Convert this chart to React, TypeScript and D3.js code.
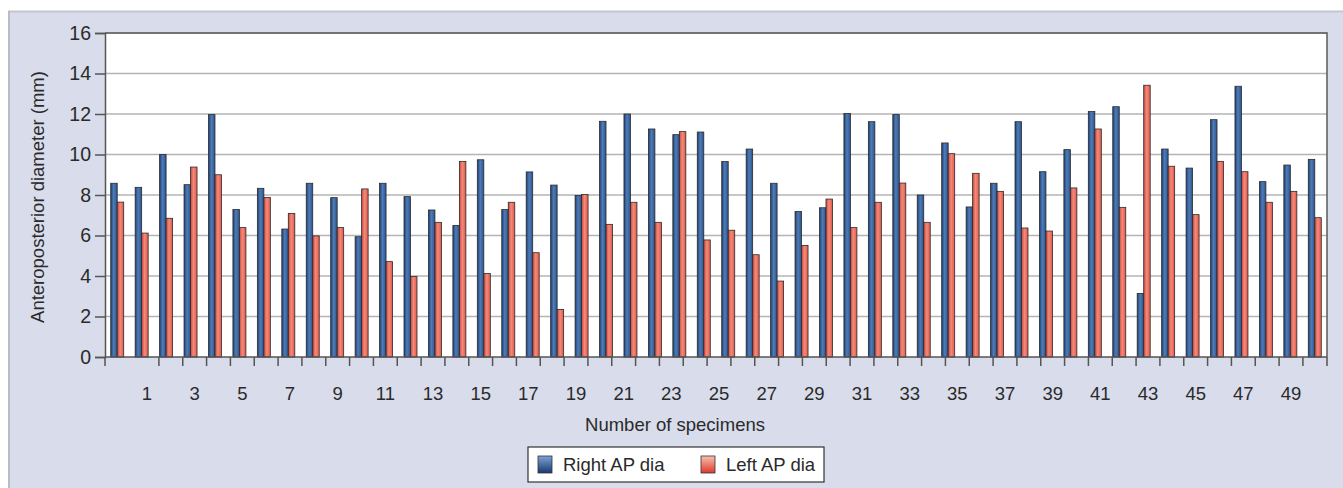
import { useEffect, useRef } from 'react';
import * as d3 from 'd3';

// values (mm), specimens in order
const rightAP = [
  8.58, 8.38, 10.0, 8.51, 11.97, 7.28, 8.33, 6.32, 8.58, 7.87,
  5.94, 8.58, 7.92, 7.26, 6.5, 9.74, 7.28, 9.14, 8.49, 7.98,
  11.64, 12.0, 11.26, 10.98, 11.11, 9.65, 10.27, 8.58, 7.19, 7.37,
  12.03, 11.62, 11.97, 8.0, 10.57, 7.41, 8.58, 11.62, 9.15, 10.24,
  12.12, 12.36, 3.14, 10.27, 9.33, 11.72, 13.37, 8.66, 9.48, 9.76,
];
const leftAP = [
  7.65, 6.12, 6.85, 9.38, 9.0, 6.39, 7.88, 7.09, 5.98, 6.39,
  8.3, 4.71, 3.97, 6.65, 9.66, 4.12, 7.64, 5.15, 2.35, 8.02,
  6.55, 7.64, 6.65, 11.13, 5.78, 6.26, 5.05, 3.75, 5.51, 7.8,
  6.39, 7.64, 8.59, 6.65, 10.04, 9.07, 8.18, 6.37, 6.22, 8.35,
  11.26, 7.39, 13.42, 9.42, 7.03, 9.66, 9.15, 7.64, 8.18, 6.88,
];
const seriesNames = ['Right AP dia', 'Left AP dia'];
const yTicks = [0, 2, 4, 6, 8, 10, 12, 14, 16];
const xTickLabels = d3.range(1, 50, 2);

const FONT = '"Liberation Sans", Arial, sans-serif';
const TEXT = '#2a2a2a';

const App = () => {
  const svgRef = useRef<SVGSVGElement>(null);

  useEffect(() => {
    if (!svgRef.current) return;
    const svg = d3.select(svgRef.current);
    svg.selectAll('*').remove();

    const width = 1343;
    const height = 488;
    const plot = { left: 105, right: 1327, top: 33, bottom: 357 };

    // gradients
    const defs = svg.append('defs');
    const grad = (id: string, stops: [number, string][], x2 = '100%', y2 = '0%') => {
      const g = defs.append('linearGradient').attr('id', id)
        .attr('x1', '0%').attr('y1', '0%').attr('x2', x2).attr('y2', y2);
      stops.forEach(([o, c]) => g.append('stop').attr('offset', `${o}%`).attr('stop-color', c));
    };
    grad('blueBar', [[0, '#1d3f72'], [45, '#4f7cb8'], [100, '#2a5490']]);
    grad('redBar', [[0, '#c9473a'], [45, '#f48a7a'], [100, '#e0594a']]);
    grad('blueKey', [[0, '#7fa2d6'], [100, '#173a70']], '0%', '100%');
    grad('redKey', [[0, '#f9c0b0'], [100, '#dc3a2a']], '0%', '100%');

    // panel background
    svg.append('rect').attr('width', width).attr('height', height).attr('fill', '#ffffff');
    svg.append('rect')
      .attr('x', 8).attr('y', 11).attr('width', width - 8).attr('height', height - 11)
      .attr('fill', '#d9dcea');
    svg.append('line').attr('x1', 8).attr('x2', width).attr('y1', 11.5).attr('y2', 11.5)
      .attr('stroke', '#c3c6cf').attr('stroke-width', 2);
    svg.append('line').attr('x1', 9).attr('x2', 9).attr('y1', 11).attr('y2', height)
      .attr('stroke', '#b9bcc6').attr('stroke-width', 2);

    // plot area
    svg.append('rect')
      .attr('x', plot.left).attr('y', plot.top)
      .attr('width', plot.right - plot.left).attr('height', plot.bottom - plot.top)
      .attr('fill', '#ffffff');

    const y = d3.scaleLinear().domain([0, 16]).range([plot.bottom, plot.top]);
    const ids = d3.range(rightAP.length).map(String);
    const x0 = d3.scaleBand().domain(ids).range([plot.left, plot.right]);
    const x1 = d3.scaleBand().domain(seriesNames).range([0, x0.bandwidth()]).paddingOuter(0.88);
    const xLab = d3.scaleLinear().domain([1, 49]).range([147, 1291]);

    // gridlines
    svg.append('g').selectAll('line').data(yTicks.filter(t => t > 0)).enter().append('line')
      .attr('x1', plot.left).attr('x2', plot.right)
      .attr('y1', d => y(d)).attr('y2', d => y(d))
      .attr('stroke', '#b4b4b4').attr('stroke-width', 1.5);

    // bars
    const data = rightAP.map((r, i) => ({ id: String(i), vals: [r, leftAP[i]] }));
    const groups = svg.append('g').selectAll('g').data(data).enter().append('g')
      .attr('transform', d => `translate(${x0(d.id)},0)`);
    groups.selectAll('rect')
      .data(d => d.vals.map((v, k) => ({ key: seriesNames[k], v, k })))
      .enter().append('rect')
      .attr('x', d => x1(d.key) as number)
      .attr('y', d => y(d.v))
      .attr('width', x1.bandwidth())
      .attr('height', d => y(0) - y(d.v))
      .attr('fill', d => (d.k === 0 ? 'url(#blueBar)' : 'url(#redBar)'))
      .attr('stroke', '#2b2b2b').attr('stroke-width', 0.8);

    // plot frame (top + right) and axes
    svg.append('path')
      .attr('d', `M${plot.left},${plot.top}H${plot.right}V${plot.bottom}`)
      .attr('fill', 'none').attr('stroke', '#5a5a5a').attr('stroke-width', 1.5);

    const yAxis = d3.axisLeft(y).tickValues(yTicks).tickSize(10).tickPadding(4);
    const yg = svg.append('g').attr('transform', `translate(${plot.left},0)`).call(yAxis);
    yg.select('.domain').attr('stroke', '#555').attr('stroke-width', 1.5);
    yg.selectAll('.tick line').attr('stroke', '#555').attr('stroke-width', 1.5);
    yg.selectAll('.tick text')
      .attr('font-family', FONT).attr('font-size', 19.5).attr('fill', TEXT);

    // x axis line and ticks
    svg.append('line')
      .attr('x1', plot.left).attr('x2', plot.right)
      .attr('y1', plot.bottom).attr('y2', plot.bottom)
      .attr('stroke', '#555').attr('stroke-width', 1.5);
    const tickPos = d3.range(1.5, 50, 1).map(v => xLab(v)).concat([plot.left, plot.right]);
    svg.append('g').selectAll('line').data(tickPos).enter().append('line')
      .attr('x1', d => d).attr('x2', d => d)
      .attr('y1', plot.bottom).attr('y2', plot.bottom + 9)
      .attr('stroke', '#555').attr('stroke-width', 1.5);
    svg.append('g').selectAll('text').data(xTickLabels).enter().append('text')
      .attr('x', d => xLab(d)).attr('y', 400)
      .attr('text-anchor', 'middle')
      .attr('font-family', FONT).attr('font-size', 18.5).attr('fill', TEXT)
      .text(d => d);

    // axis titles
    svg.append('text')
      .attr('x', 675).attr('y', 431).attr('text-anchor', 'middle')
      .attr('font-family', FONT).attr('font-size', 18.5).attr('fill', TEXT)
      .text('Number of specimens');
    svg.append('text')
      .attr('transform', `translate(44,${(plot.top + plot.bottom) / 2 + 2}) rotate(-90)`)
      .attr('text-anchor', 'middle')
      .attr('font-family', FONT).attr('font-size', 18.5).attr('fill', TEXT)
      .text('Anteroposterior diameter (mm)');

    // legend
    const lg = svg.append('g');
    lg.append('rect').attr('x', 528).attr('y', 447).attr('width', 296).attr('height', 35)
      .attr('fill', '#ffffff').attr('stroke', '#333').attr('stroke-width', 1.2);
    const keys = [
      { name: seriesNames[0], fill: 'url(#blueKey)', x: 538 },
      { name: seriesNames[1], fill: 'url(#redKey)', x: 701 },
    ];
    keys.forEach(k => {
      lg.append('rect').attr('x', k.x).attr('y', 456).attr('width', 14).attr('height', 17)
        .attr('fill', k.fill).attr('stroke', '#333').attr('stroke-width', 0.8);
      lg.append('text').attr('x', k.x + 25).attr('y', 471)
        .attr('font-family', FONT).attr('font-size', 18.5).attr('fill', TEXT)
        .text(k.name);
    });
  }, []);

  return (
    <svg
      ref={svgRef}
      width={1343}
      height={488}
      style={{ position: 'absolute', left: 0, top: 0, display: 'block' }}
    />
  );
};

export default App;
